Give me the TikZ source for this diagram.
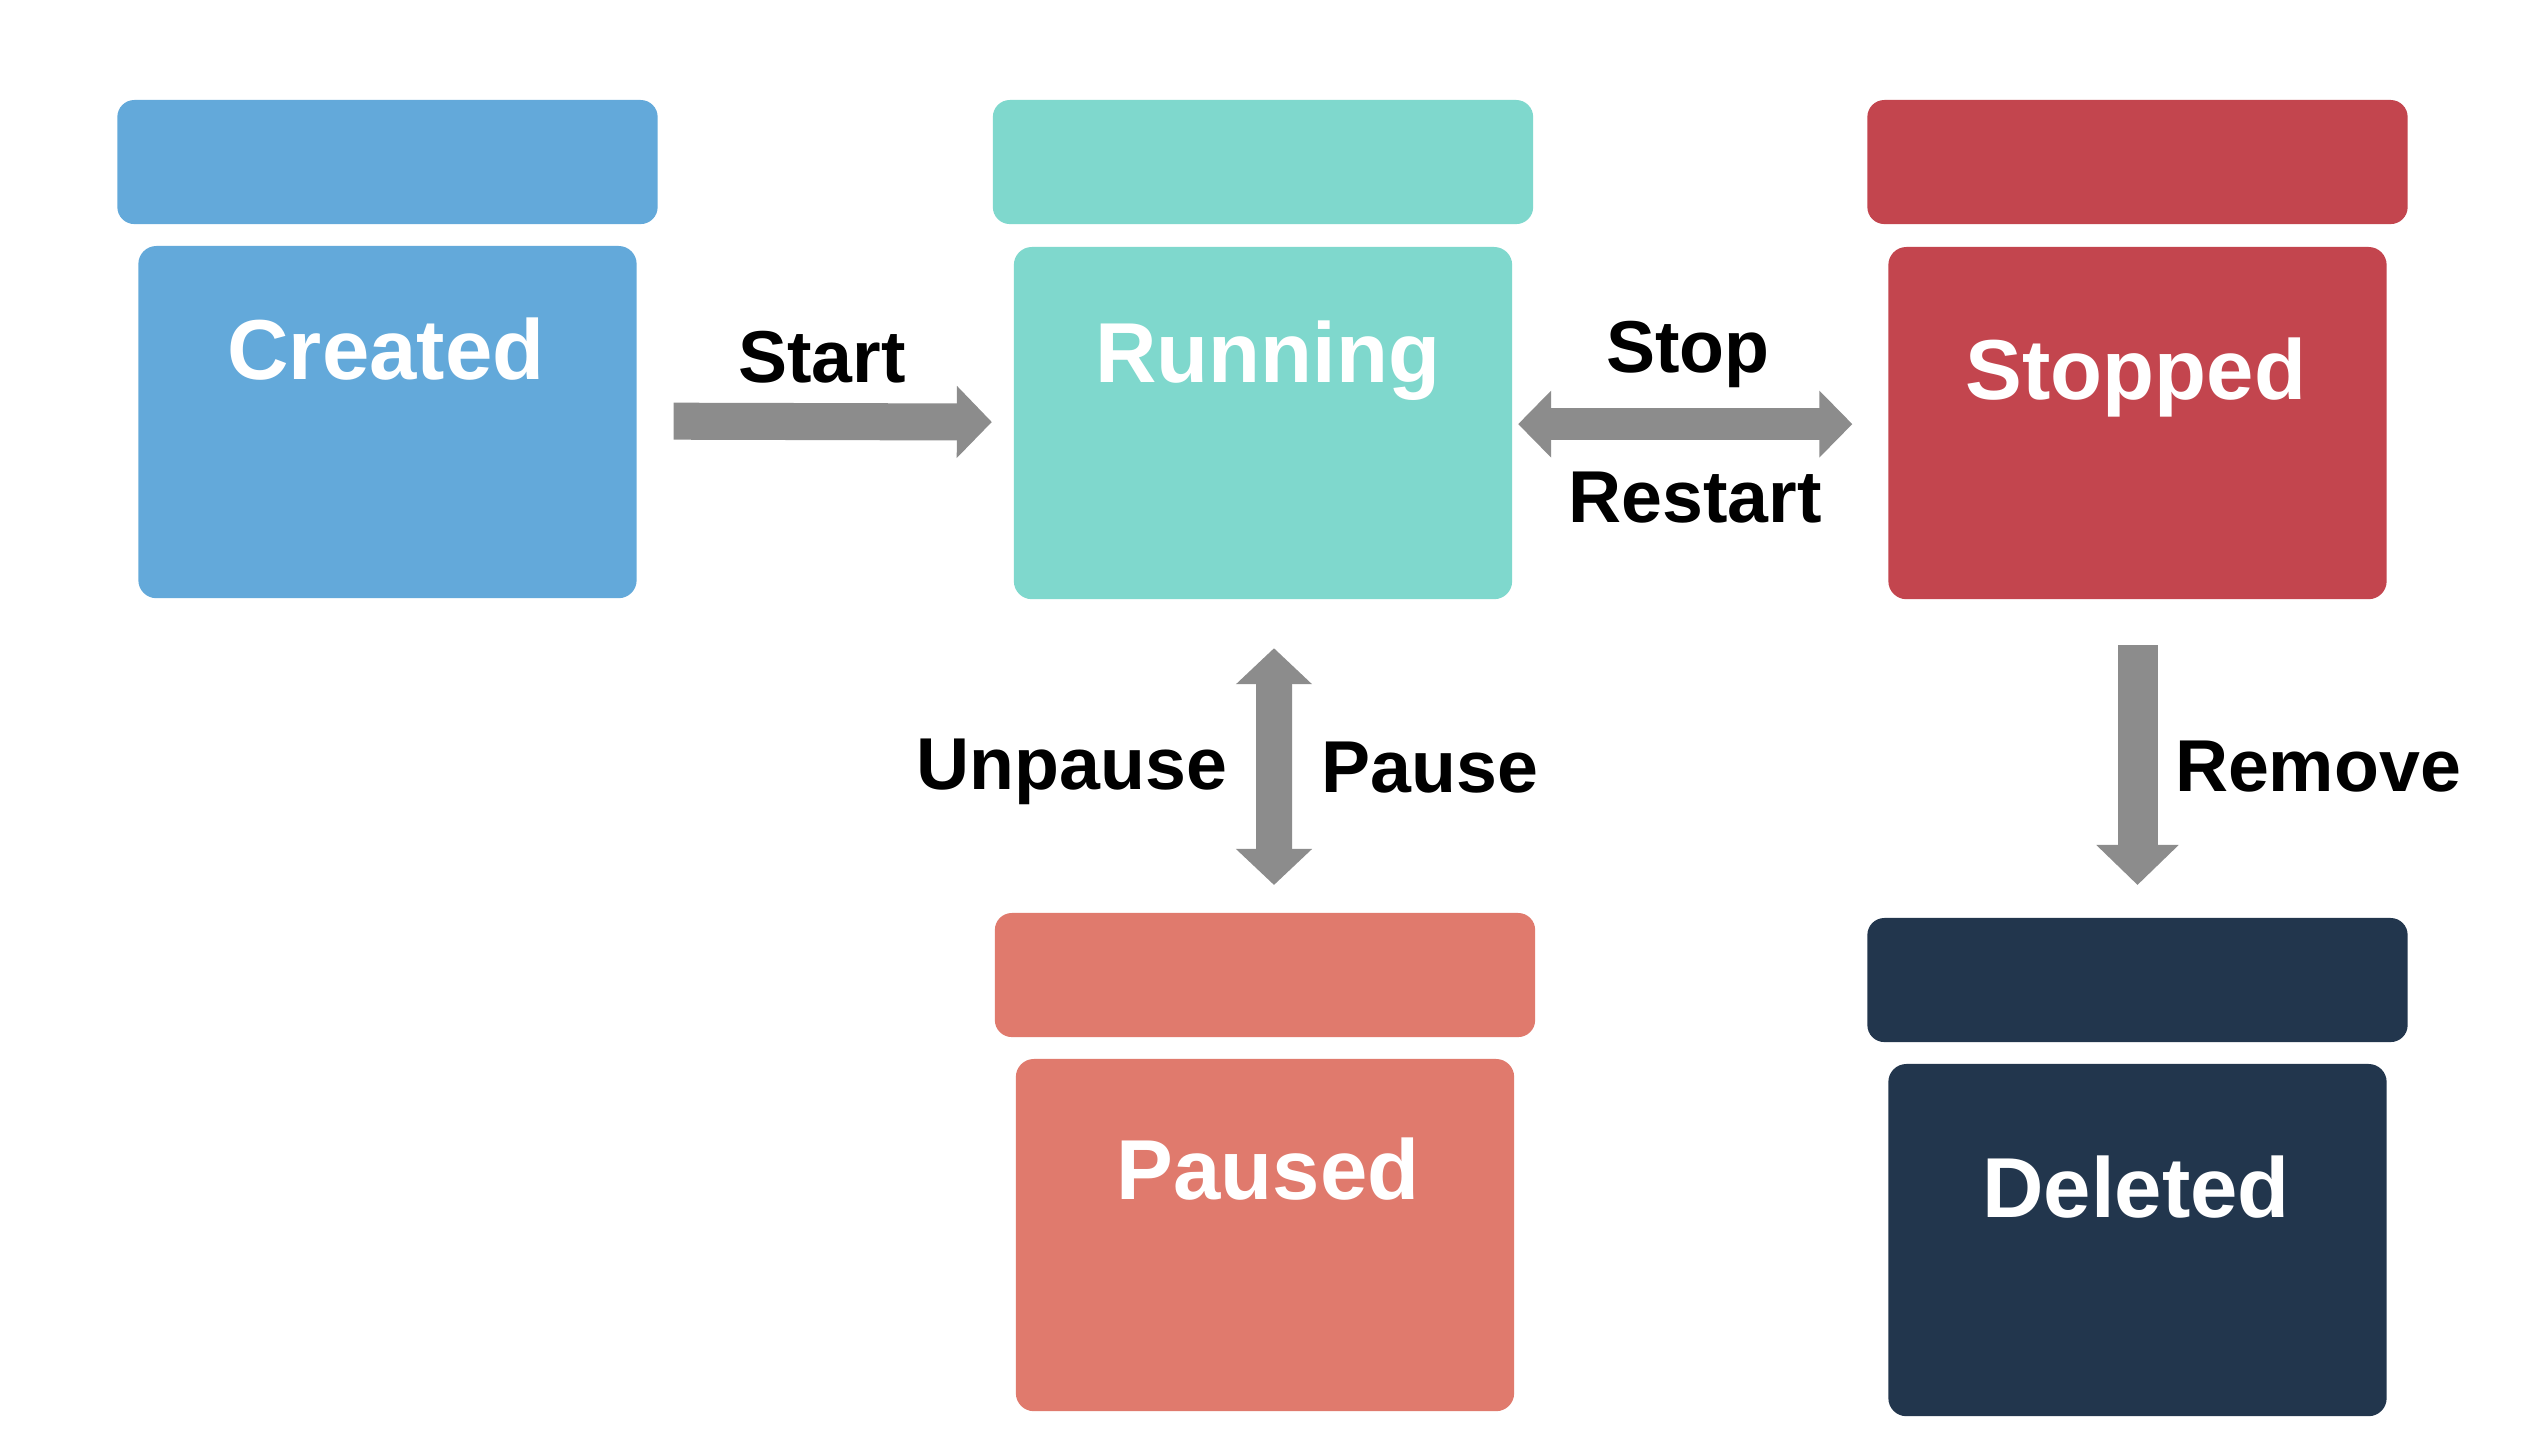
\documentclass[tikz,border=0pt]{standalone}
\usepackage{fontspec}
\setmainfont{Liberation Sans}
\usetikzlibrary{arrows.meta}

\definecolor{createdblue}{HTML}{63A9DA}
\definecolor{runningteal}{HTML}{7FD8CD}
\definecolor{stoppedred}{HTML}{C3454E}
\definecolor{pausedsalmon}{HTML}{E07A6D}
\definecolor{deletednavy}{HTML}{22364D}
\definecolor{arrowgray}{HTML}{8C8C8C}

\newcommand\stnamefont{\fontsize{24.2}{28}\selectfont\bfseries}
\newcommand\actnamefont{\fontsize{20.9}{24}\selectfont\bfseries}

\tikzset{
  lid/.style={fill=#1, rounded corners=0.17cm, minimum width=5.40cm,
    minimum height=1.24cm, inner sep=0pt, outer sep=0pt, anchor=north},
  body/.style={fill=#1, rounded corners=0.18cm, minimum width=4.98cm,
    minimum height=3.52cm, inner sep=0pt, outer sep=0pt, anchor=north},
  statename/.style={text=white, font=\stnamefont, anchor=base, inner sep=0pt},
  actionname/.style={text=black, font=\actnamefont, anchor=base, inner sep=0pt},
  flow/.style n args={3}{draw=arrowgray, line width=#1,
    -{Triangle[width=#2, length=#3]}},
  flowboth/.style n args={3}{draw=arrowgray, line width=#1,
    {Triangle[width=#2, length=#3]}-{Triangle[width=#2, length=#3]}},
}

\begin{document}
\begin{tikzpicture}[x=0.01cm, y=-0.01cm]
  % canvas
  \fill[white] (0,0) rectangle (2544,1434);
  \useasboundingbox (0,0) rectangle (2544,1434);

  % Created
  \node[lid=createdblue]  (createdlid) at (387.5,100) {};
  \node[body=createdblue] (created)    at (387.5,246) {};
  \node[statename] (createdtxt) at (386,380) {Created};

  % Running
  \node[lid=runningteal]  (runninglid) at (1263,100) {};
  \node[body=runningteal] (running)    at (1263,247) {};
  \node[statename] (runningtxt) at (1268,383) {Running};

  % Stopped
  \node[lid=stoppedred]  (stoppedlid) at (2137.5,100) {};
  \node[body=stoppedred] (stopped)    at (2137.5,247) {};
  \node[statename] (stoppedtxt) at (2136,400) {Stopped};

  % Paused
  \node[lid=pausedsalmon]  (pausedlid) at (1265,913) {};
  \node[body=pausedsalmon] (paused)    at (1265,1059) {};
  \node[statename] (pausedtxt) at (1268,1200) {Paused};

  % Deleted
  \node[lid=deletednavy]  (deletedlid) at (2137.5,918) {};
  \node[body=deletednavy] (deleted)    at (2137.5,1064) {};
  \node[statename] (deletedtxt) at (2136,1218) {Deleted};

  % transitions
  \draw[flow={0.37cm}{0.70cm}{0.35cm}, shorten <=0.37cm, shorten >=0.22cm]
    ([yshift=0.01cm]created.east) -- ([yshift=0.01cm]running.west);
  \draw[flowboth={0.32cm}{0.65cm}{0.33cm}, shorten <=0.06cm, shorten >=0.36cm]
    ([yshift=-0.01cm]running.east) -- ([yshift=-0.01cm]stopped.west);
  \draw[flowboth={0.36cm}{0.74cm}{0.36cm}, shorten <=0.49cm, shorten >=0.28cm]
    ([xshift=0.11cm]running.south) -- ([xshift=0.09cm]pausedlid.north);
  \draw[flow={0.40cm}{0.80cm}{0.40cm}, shorten <=0.46cm, shorten >=0.33cm]
    (stopped.south) -- (deletedlid.north);

  % transition labels
  \node[actionname] (startlbl)   at (822,383)  {Start};
  \node[actionname] (stoplbl)    at (1688,373) {Stop};
  \node[actionname] (restartlbl) at (1695,523) {Restart};
  \node[actionname] (unpauselbl) at (1072,790) {Unpause};
  \node[actionname] (pauselbl)   at (1430,793) {Pause};
  \node[actionname] (removelbl)  at (2318,792) {Remove};
\end{tikzpicture}
\end{document}
